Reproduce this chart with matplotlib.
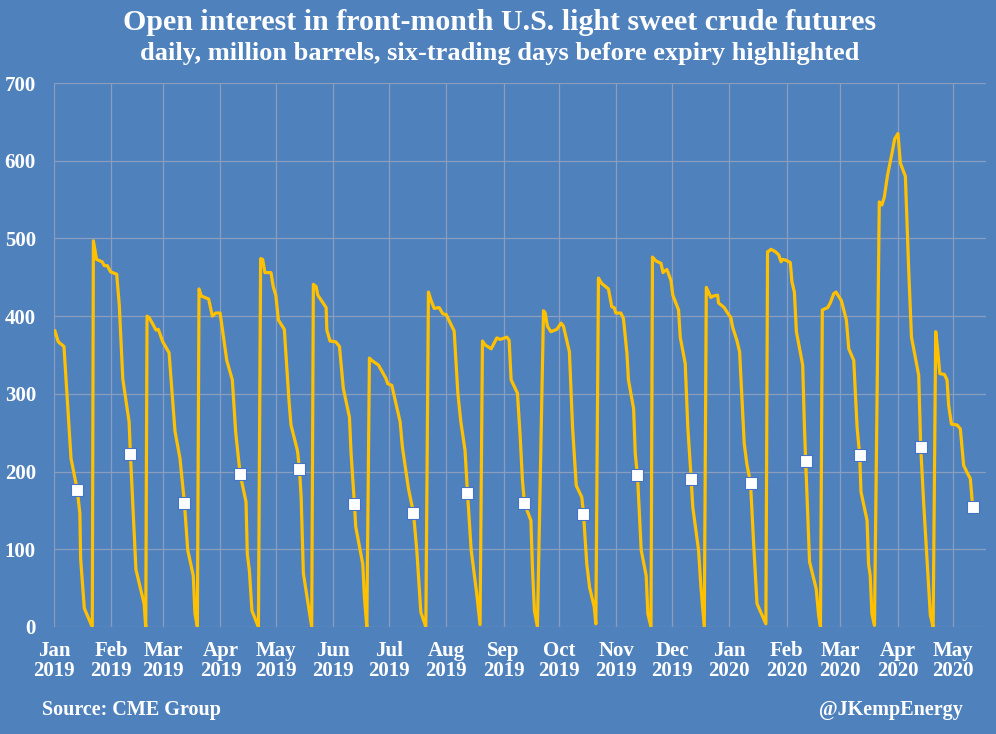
import matplotlib
matplotlib.use("Agg")
import matplotlib.pyplot as plt
import numpy as np
import pandas as pd

plt.rcParams['font.family'] = ['Liberation Serif', 'DejaVu Serif']
plt.rcParams['font.weight'] = 'bold'

# open interest, million barrels; x = days since 1 Jan 2019
days = [0.5, 2.3, 5.4, 9.2, 12.6, 14.0, 14.4, 16.4, 20.7,
        21.3, 23.0, 26.0, 27.2, 28.8, 30.6, 33.9, 35.3, 37.2, 40.6, 41.3, 44.3, 48.7, 49.6,
        50.3, 51.5, 55.2, 56.4, 58.8, 62.2, 65.4, 68.1, 70.5, 72.3, 75.3, 76.2, 77.5,
        78.4, 79.6, 83.6, 85.6, 87.4, 89.8, 93.4, 96.4, 98.2, 100.6, 103.8, 104.5, 105.6, 107.0, 110.5,
        111.7, 112.8, 114.0, 117.3, 118.5, 119.9, 121.3, 124.5, 127.0, 128.1, 131.6, 132.7, 133.6, 134.8, 139.3,
        140.2, 141.7, 142.6, 147.1, 147.5, 149.2, 152.3, 154.3, 156.4, 159.7, 160.6, 162.4, 163.1, 166.9, 167.8, 169.1,
        170.5, 171.8, 175.4, 179.4, 180.4, 182.6, 187.1, 188.3, 191.6, 194.3, 196.1, 198.3, 201.0,
        202.4, 203.7, 205.5, 208.2, 210.2, 212.0, 213.8, 216.3, 218.3, 219.9, 222.2, 223.5, 225.5, 228.5, 230.3,
        231.6, 233.0, 236.3, 239.4, 241.2, 244.8, 246.0, 247.1, 250.5, 252.0, 253.2, 254.3, 257.8, 258.6, 259.7, 261.3,
        264.6, 265.5, 266.7, 268.6, 271.8, 274.1, 275.4, 278.6, 280.3, 282.3, 285.3, 286.2, 288.0, 289.5, 292.0, 292.9,
        294.3, 296.1, 299.7, 301.5, 302.8, 303.7, 306.4, 307.8, 309.7, 310.5, 313.3, 314.2, 315.4, 317.4, 320.1, 321.0, 322.7,
        323.5, 325.4, 328.1, 329.2, 330.0, 331.3, 333.5, 334.5, 337.6, 338.5, 341.2, 342.6, 344.4, 345.3, 348.4, 349.7, 351.5,
        352.6, 355.1, 356.5, 358.7, 359.2, 362.3, 364.1, 365.9, 366.8, 369.1, 370.6, 373.1, 374.5, 376.5, 378.1, 380.0, 384.8,
        385.7, 386.6, 387.5, 389.9, 391.7, 393.0, 393.8, 395.7, 398.0, 398.9, 400.2, 401.3, 404.7, 405.6, 406.3, 408.4, 412.0, 413.3, 414.3,
        415.3, 418.2, 419.6, 421.5, 422.7, 425.6, 428.3, 429.6, 432.3, 434.1, 435.5, 436.2, 439.5, 440.3, 441.2, 442.1, 443.5,
        446.1, 447.5, 448.8, 450.6, 453.0, 454.4, 456.2, 457.5, 460.2, 462.0, 463.5, 467.4, 468.5, 470.1, 473.7, 475.2,
        476.6, 477.7, 478.8, 481.3, 482.7, 483.6, 485.1, 488.1, 489.9, 491.7, 493.5, 495.3, 496.6]
open_interest = [381, 367, 361, 217, 176, 146, 88, 24, 0,
                 497, 473, 470, 465, 465, 457, 454, 414, 319, 264, 223, 74, 30, 0,
                 400, 398, 382, 383, 367, 353, 252, 217, 160, 99, 66, 17, 0,
                 435, 426, 422, 400, 404, 404, 343, 318, 251, 197, 161, 94, 73, 21, 0,
                 474, 473, 456, 456, 438, 427, 395, 383, 292, 260, 227, 203, 167, 69, 0,
                 441, 438, 427, 411, 382, 368, 367, 361, 307, 270, 223, 158, 129, 81, 38, 0,
                 346, 343, 337, 320, 313, 311, 264, 232, 178, 147, 99, 19, 0,
                 431, 421, 410, 411, 403, 402, 393, 381, 301, 264, 227, 173, 99, 43, 3,
                 368, 363, 358, 372, 370, 373, 369, 318, 301, 245, 189, 159, 137, 77, 21, 0,
                 407, 404, 387, 380, 383, 391, 387, 354, 257, 182, 167, 146, 81, 51, 26, 4,
                 449, 442, 435, 412, 411, 404, 404, 397, 352, 318, 281, 223, 195, 99, 66, 17, 0,
                 476, 471, 468, 456, 458, 460, 446, 427, 408, 373, 339, 257, 191, 154, 99, 51, 0,
                 437, 424, 426, 427, 417, 411, 404, 398, 386, 369, 354, 236, 210, 185, 111, 30, 4,
                 483, 484, 486, 483, 479, 470, 473, 472, 469, 444, 431, 380, 337, 260, 214, 84, 49, 15, 0,
                 408, 411, 417, 429, 431, 420, 395, 358, 343, 257, 221, 174, 137, 81, 66, 17, 2,
                 547, 543, 553, 582, 610, 628, 635, 597, 580, 459, 373, 324, 231, 159, 15, 0,
                 380, 356, 326, 325, 318, 285, 261, 260, 255, 208, 199, 191, 154]

# six trading days before expiry
expiry_days = [12.6, 41.3, 70.5, 100.6, 132.7, 162.4, 194.3, 223.5, 254.3,
               286.2, 315.4, 344.4, 376.5, 406.3, 435.5, 468.5, 496.6]
expiry_oi = [176, 223, 160, 197, 203, 158, 147, 173, 159,
             146, 195, 191, 185, 214, 221, 231, 154]

start = pd.Timestamp('2019-01-01')
months = pd.date_range('2019-01-01', '2020-05-01', freq='MS')
month_pos = (months - start).days
month_labels = [m.strftime('%b') + '\n' + m.strftime('%Y') for m in months]

bg = '#4F81BD'
fig = plt.figure(figsize=(9.96, 7.34), dpi=100, facecolor=bg)
ax = fig.add_axes([0.0542, 0.1458, 0.9358, 0.7411], facecolor=bg)

ax.plot(days, open_interest, color='#FFC000', linewidth=2.3, zorder=3)
ax.plot(expiry_days, expiry_oi, linestyle='none', marker='s', markersize=8.5,
        markerfacecolor='white', markeredgecolor='#4472C4', markeredgewidth=0.8, zorder=4)

ax.set_xlim(0, 503.8)
ax.set_ylim(0, 700)
ax.set_yticks(range(0, 701, 100))
ax.set_xticks(month_pos)
ax.set_xticklabels(month_labels, linespacing=1.0)
ax.grid(True, color='#8A9DBD', linewidth=0.9)
ax.set_axisbelow(True)
for s in ax.spines.values():
    s.set_visible(False)
ax.tick_params(axis='both', length=0, colors='white', labelsize=15)
ax.tick_params(axis='y', pad=13)
ax.tick_params(axis='x', pad=10)

fig.text(0.502, 0.970, 'Open interest in front-month U.S. light sweet crude futures',
         ha='center', va='center', color='white', fontsize=21.5, fontweight='bold')
fig.text(0.502, 0.927, 'daily, million barrels, six-trading days before expiry highlighted',
         ha='center', va='center', color='white', fontsize=19, fontweight='bold')
fig.text(0.042, 0.033, 'Source: CME Group', ha='left', va='center', color='white', fontsize=14.5)
fig.text(0.967, 0.033, '@JKempEnergy', ha='right', va='center', color='white', fontsize=14.5)

fig.savefig('out.png', dpi=100, facecolor=bg)
